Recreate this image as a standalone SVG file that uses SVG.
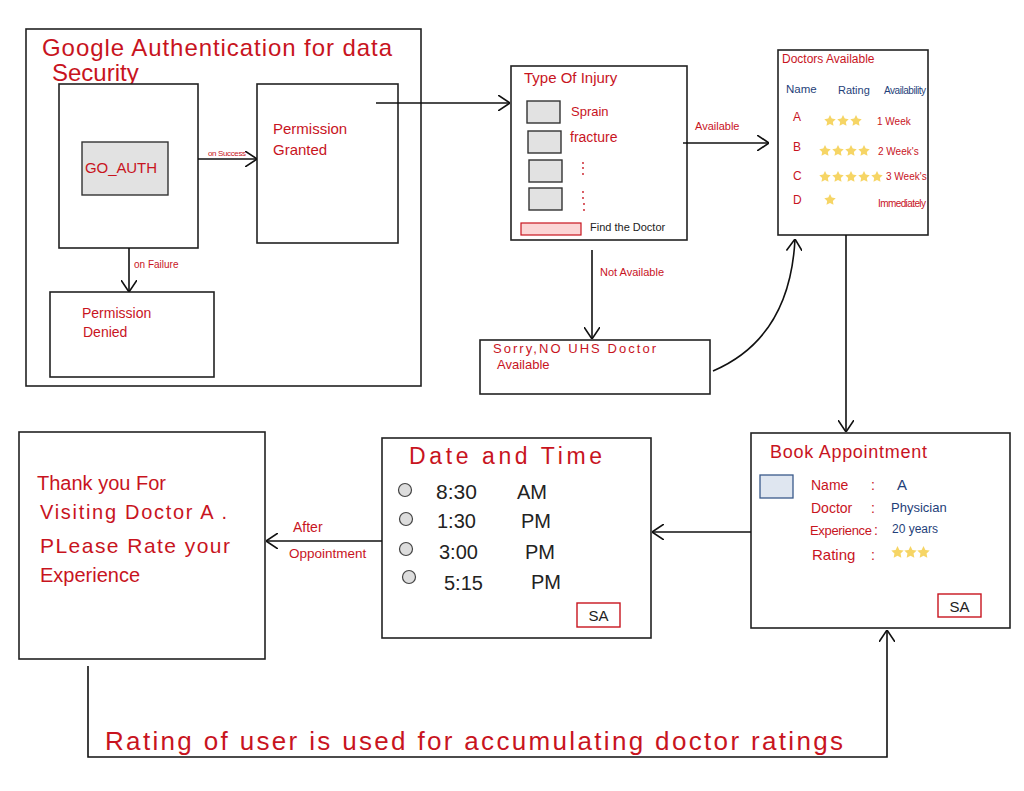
<svg xmlns="http://www.w3.org/2000/svg" xmlns:xlink="http://www.w3.org/1999/xlink" width="1024" height="791" viewBox="0 0 1024 791">
<defs>
<style>
.box{fill:#fff;stroke:#222;stroke-width:1.6}
.red{fill:#c8141e;font-family:"Liberation Sans",Arial,sans-serif}
.blue{fill:#1f3f7a;font-family:"Liberation Sans",Arial,sans-serif}
.blk{fill:#222;font-family:"Liberation Sans",Arial,sans-serif}
.conn{fill:none;stroke:#111;stroke-width:1.6}
.sq{fill:#e2e2e2;stroke:#333;stroke-width:1.4}
.rad{fill:#ddd;stroke:#444;stroke-width:1.2}
.sa{fill:#fff;stroke:#c8141e;stroke-width:1.4}
</style>
<marker id="arr" viewBox="0 0 12 16" refX="12" refY="8" markerWidth="12" markerHeight="16" markerUnits="userSpaceOnUse" orient="auto">
<path d="M0,0 L12,8 L0,16" fill="none" stroke="#111" stroke-width="1.6"/>
</marker>
<symbol id="star" viewBox="-1 -1 2 2">
<polygon points="0,-1 0.29,-0.4 0.951,-0.309 0.47,0.15 0.588,0.809 0,0.5 -0.588,0.809 -0.47,0.15 -0.951,-0.309 -0.29,-0.4" fill="#f6d565"/>
</symbol>
</defs>
<rect width="1024" height="791" fill="#fff"/>

<g id="auth-group">
<rect class="box" x="26" y="29" width="395" height="357"/>
<text class="red" x="42" y="56" font-size="24" textLength="350">Google Authentication for data</text>
<text class="red" x="52" y="81" font-size="24">Security</text>
</g>

<g id="go-auth">
<rect class="box" x="59" y="84" width="139" height="164"/>
<rect class="sq" x="82" y="142" width="86" height="53"/>
<text class="red" x="85" y="173" font-size="15" textLength="72">GO_AUTH</text>
</g>

<g id="permission-granted">
<rect class="box" x="257" y="84" width="141" height="159"/>
<text class="red" x="273" y="134" font-size="15">Permission</text>
<text class="red" x="273" y="155" font-size="15">Granted</text>
</g>

<g id="permission-denied">
<rect class="box" x="50" y="292" width="164" height="85"/>
<text class="red" x="82" y="318" font-size="14">Permission</text>
<text class="red" x="83" y="337" font-size="14">Denied</text>
</g>

<g id="type-of-injury">
<rect class="box" x="511" y="66" width="176" height="174"/>
<text class="red" x="524" y="83" font-size="15">Type Of Injury</text>
<rect class="sq" x="527" y="101" width="33" height="22"/>
<rect class="sq" x="528" y="131" width="33" height="22"/>
<rect class="sq" x="529" y="160" width="33" height="22"/>
<rect class="sq" x="529" y="188" width="33" height="22"/>
<text class="red" x="571" y="116" font-size="13">Sprain</text>
<text class="red" x="570" y="142" font-size="14">fracture</text>
<g fill="#c8141e">
<circle cx="583" cy="163" r="0.9"/><circle cx="583" cy="168" r="0.9"/><circle cx="583" cy="174" r="0.9"/>
<circle cx="583" cy="192" r="0.9"/><circle cx="583" cy="198" r="0.9"/><circle cx="584" cy="204" r="0.9"/><circle cx="584" cy="210" r="0.9"/>
</g>
<rect x="521" y="223" width="60" height="12" fill="#fbd6d6" stroke="#c8141e" stroke-width="1.2"/>
<text class="blk" x="590" y="231" font-size="11">Find the Doctor</text>
</g>

<g id="doctors-available">
<rect class="box" x="778" y="50" width="150" height="185"/>
<text class="red" x="782" y="63" font-size="12">Doctors Available</text>
<text class="blue" x="786" y="93" font-size="11.5">Name</text>
<text class="blue" x="838" y="94" font-size="11">Rating</text>
<text class="blue" x="884" y="94" font-size="10" textLength="42">Availability</text>
<text class="red" x="793" y="121" font-size="12">A</text>
<text class="red" x="793" y="151" font-size="12">B</text>
<text class="red" x="793" y="180" font-size="12">C</text>
<text class="red" x="793" y="204" font-size="12">D</text>
<use href="#star" x="824" y="115" width="12" height="12"/>
<use href="#star" x="837" y="115" width="12" height="12"/>
<use href="#star" x="850" y="115" width="12" height="12"/>
<use href="#star" x="819" y="145" width="12" height="12"/>
<use href="#star" x="832" y="145" width="12" height="12"/>
<use href="#star" x="845" y="145" width="12" height="12"/>
<use href="#star" x="858" y="145" width="12" height="12"/>
<use href="#star" x="819" y="171" width="12" height="12"/>
<use href="#star" x="832" y="171" width="12" height="12"/>
<use href="#star" x="845" y="171" width="12" height="12"/>
<use href="#star" x="858" y="171" width="12" height="12"/>
<use href="#star" x="871" y="171" width="12" height="12"/>
<use href="#star" x="824" y="194" width="12" height="12"/>
<text class="red" x="877" y="125" font-size="10">1 Week</text>
<text class="red" x="878" y="155" font-size="10">2 Week's</text>
<text class="red" x="886" y="180" font-size="10">3 Week's</text>
<text class="red" x="878" y="207" font-size="10" textLength="48">Immediately</text>
</g>

<g id="no-doctors">
<rect class="box" x="480" y="340" width="230" height="54"/>
<text class="red" x="493" y="353" font-size="13" textLength="163">Sorry,NO UHS Doctor</text>
<text class="red" x="497" y="369" font-size="13">Available</text>
</g>

<g id="book-appointment">
<rect class="box" x="751" y="433" width="259" height="195"/>
<text class="red" x="770" y="458" font-size="18" textLength="157">Book Appointment</text>
<rect x="760" y="475" width="33" height="23" fill="#dfe6f0" stroke="#3a5a8a" stroke-width="1.3"/>
<text class="red" x="811" y="490" font-size="14">Name</text>
<text class="red" x="871" y="490" font-size="14">:</text>
<text class="blue" x="897" y="490" font-size="15">A</text>
<text class="red" x="811" y="513" font-size="14">Doctor</text>
<text class="red" x="871" y="513" font-size="14">:</text>
<text class="blue" x="891" y="512" font-size="13">Physician</text>
<text class="red" x="810" y="535" font-size="13" textLength="62">Experience</text>
<text class="red" x="874" y="535" font-size="14">:</text>
<text class="blue" x="892" y="533" font-size="12">20 years</text>
<text class="red" x="812" y="560" font-size="15">Rating</text>
<text class="red" x="871" y="560" font-size="14">:</text>
<use href="#star" x="891" y="546" width="13" height="13"/>
<use href="#star" x="904" y="546" width="13" height="13"/>
<use href="#star" x="917" y="546" width="13" height="13"/>
<rect class="sa" x="938" y="594" width="43" height="23"/>
<text class="blk" x="959.5" y="612" font-size="15" text-anchor="middle">SA</text>
</g>

<g id="date-time">
<rect class="box" x="382" y="438" width="269" height="200"/>
<text class="red" x="409" y="464" font-size="23" textLength="193">Date and Time</text>
<circle class="rad" cx="405" cy="490" r="6.5"/>
<circle class="rad" cx="406" cy="519" r="6.5"/>
<circle class="rad" cx="406" cy="549" r="6.5"/>
<circle class="rad" cx="409" cy="577" r="6.5"/>
<text class="blk" x="436" y="499" font-size="21">8:30</text>
<text class="blk" x="517" y="499" font-size="20">AM</text>
<text class="blk" x="437" y="528" font-size="20">1:30</text>
<text class="blk" x="521" y="528" font-size="20">PM</text>
<text class="blk" x="439" y="559" font-size="20">3:00</text>
<text class="blk" x="525" y="559" font-size="20">PM</text>
<text class="blk" x="444" y="590" font-size="20">5:15</text>
<text class="blk" x="531" y="589" font-size="20">PM</text>
<rect class="sa" x="577" y="603" width="43" height="24"/>
<text class="blk" x="598.5" y="621" font-size="15" text-anchor="middle">SA</text>
</g>

<g id="thank-you">
<rect class="box" x="19" y="432" width="246" height="227"/>
<text class="red" x="37" y="490" font-size="20">Thank you For</text>
<text class="red" x="40" y="519" font-size="20" textLength="187">Visiting Doctor A .</text>
<text class="red" x="40" y="553" font-size="21" textLength="190">PLease Rate your</text>
<text class="red" x="40" y="582" font-size="20">Experience</text>
</g>

<g id="connectors">
<path class="conn" d="M198,159 H257" marker-end="url(#arr)"/>
<text class="red" x="208" y="156" font-size="8" textLength="38">on Success</text>
<path class="conn" d="M129,248 V292" marker-end="url(#arr)"/>
<text class="red" x="134" y="268" font-size="10">on Failure</text>
<path class="conn" d="M376,103 H510" marker-end="url(#arr)"/>
<path class="conn" d="M683,143 H769" marker-end="url(#arr)"/>
<text class="red" x="695" y="130" font-size="11">Available</text>
<path class="conn" d="M592,250 V339" marker-end="url(#arr)"/>
<text class="red" x="600" y="276" font-size="11">Not Available</text>
<path class="conn" d="M713,371 Q790,338 795,239" marker-end="url(#arr)"/>
<path class="conn" d="M846,235 V432" marker-end="url(#arr)"/>
<path class="conn" d="M751,532 H652" marker-end="url(#arr)"/>
<path class="conn" d="M382,541 H266" marker-end="url(#arr)"/>
<text class="red" x="293" y="532" font-size="14">After</text>
<text class="red" x="289" y="558" font-size="13.5">Oppointment</text>
<path class="conn" d="M88,666 V757 H887 V630" marker-end="url(#arr)"/>
<text class="red" x="105" y="750" font-size="26" textLength="738">Rating of user is used for accumulating doctor ratings</text>
</g>
</svg>
